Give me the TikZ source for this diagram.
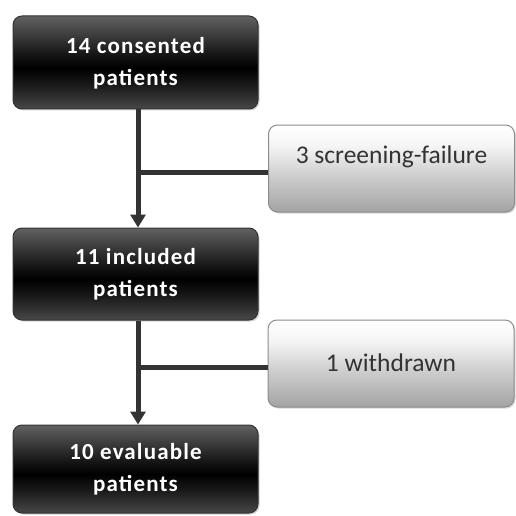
\documentclass[tikz,border=0pt]{standalone}
\usepackage{fontspec}
\setmainfont{Carlito}
\usetikzlibrary{shadows,arrows.meta}
\definecolor{linec}{HTML}{333333}
\pgfdeclareverticalshading{darkshade}{100bp}{%
  color(0bp)=(black!72); color(25bp)=(black!72); color(38bp)=(black!90);
  color(47bp)=(black); color(54bp)=(black!92); color(75bp)=(black!62); color(100bp)=(black!62)}
\pgfdeclareverticalshading{lightshade}{100bp}{%
  color(0bp)=(black!36); color(25bp)=(black!36); color(45bp)=(black!20);
  color(63bp)=(black!4); color(75bp)=(white); color(100bp)=(white)}
\tikzset{
  x=1pt, y=-1pt,
  darkbox/.style={draw=black!80, line width=1pt, rounded corners=9pt,
    minimum width=245pt, minimum height=93pt, shading=darkshade,
    drop shadow={shadow xshift=1.5pt, shadow yshift=-1.5pt, opacity=0.35}},
  darktext/.style={text=white, font=\fontsize{23}{32}\selectfont\bfseries\addfontfeature{LetterSpace=5}, align=center},
  lightbox/.style={draw=black!45, line width=1pt, rounded corners=9pt,
    minimum width=246pt, minimum height=87pt, shading=lightshade,
    drop shadow={shadow xshift=1.5pt, shadow yshift=-1.5pt, opacity=0.3}},
  lighttext/.style={text=linec, font=\fontsize{25.5}{30}\selectfont},
  conn/.style={draw=linec, line width=5pt},
  arr/.style={conn, -{Triangle[length=13pt, width=15pt]}}
}
\begin{document}
\begin{tikzpicture}
\useasboundingbox (0,0) rectangle (515,516);
\node[darkbox] (a) at (135.5,62.5) {};
\node[darktext] (at) at (135.5,63) {14 consented\\patients};
\node[darkbox, minimum height=92pt] (b) at (135.5,274) {};
\node[darktext] (bt) at (135.5,274) {11 included\\patients};
\node[darkbox, minimum height=88pt] (c) at (135.5,469) {};
\node[darktext] (ct) at (135.5,469) {10 evaluable\\patients};
\node[lightbox] (s1) at (391.5,168.5) {};
\node[lighttext] (s1t) at (391.5,157) {3 screening-failure};
\node[lightbox] (s2) at (391,363.5) {};
\node[lighttext] (s2t) at (391,363) {1 withdrawn};
\coordinate (j1) at (138,172);
\coordinate (j2) at (138,367);
\draw[arr] (a.south -| j1) -- (b.north -| j1);
\draw[conn] (j1) -- (j1 -| s1.west);
\draw[arr] (b.south -| j2) -- (c.north -| j2);
\draw[conn] (j2) -- (j2 -| s2.west);
\end{tikzpicture}
\end{document}
